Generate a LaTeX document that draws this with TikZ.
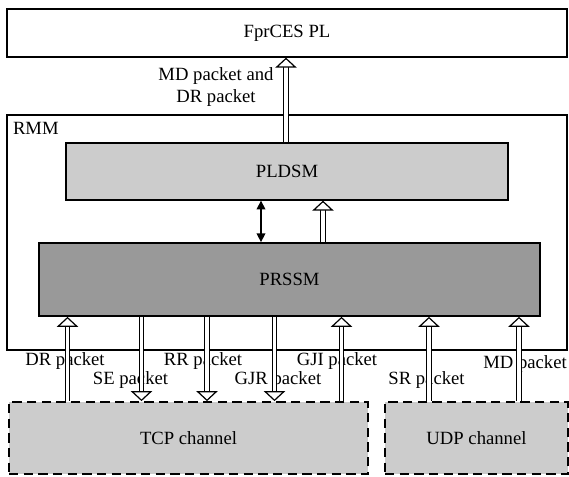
\documentclass[tikz,border=0pt]{standalone}
\usepackage{fontspec}
\setmainfont{Liberation Serif}
\usetikzlibrary{positioning,arrows.meta}
\definecolor{LightBox}{RGB}{204,204,204}
\definecolor{DarkBox}{RGB}{153,153,153}

\tikzset{
	block/.style={draw, line width=1pt, inner sep=0pt},
	channel/.style={draw, fill=LightBox, line width=1.3pt, dash pattern=on 7pt off 4pt, inner sep=0pt},
	hollow/.style={double, double distance=2.6pt, line width=0.9pt,
		-{Triangle[fill=white, width=16pt, length=7.5pt, line width=0.9pt]}},
	bothway/.style={line width=1pt,
		{Triangle[width=6.5pt,length=6.5pt]}-{Triangle[width=6.5pt,length=6.5pt]}}
}

\begin{document}
\begin{tikzpicture}[x=0.75pt, y=-0.75pt, font=\fontsize{14}{16.5}\selectfont]
	\useasboundingbox (0,0) rectangle (569,477);
	
	\node[block, minimum width=420pt, minimum height=36pt] (PL) at (287,33) {FprCES PL};
	
	\node[block, minimum width=420pt, minimum height=176.25pt] (RMM) at (287,232.5) {};
	\node[anchor=north west] (RMMtxt) at ([xshift=1.5pt,yshift=-2.8pt]RMM.north west) {RMM};
	
	\node[block, fill=LightBox, minimum width=331.5pt, minimum height=42.75pt] (PLDSM) at (287,171.5) {PLDSM};
	\node[block, fill=DarkBox, line width=1.3pt, minimum width=375.75pt, minimum height=54.75pt] (PRSSM) at (289.5,279.5) {PRSSM};
	
	\node[channel, minimum width=269.25pt, minimum height=54pt] (TCP) at (188.5,438) {TCP channel};
	\node[channel, minimum width=137.25pt, minimum height=54pt] (UDP) at (476.5,438) {UDP channel};
	
	% packet labels (arrows go over them)
	\node[align=center] (lTop) at (216,87) {MD packet and\\DR packet};
	\node (lDR) at (65,361) {DR packet};
	\node (lSE) at (130.5,380) {SE packet};
	\node (lRR) at (203,361) {RR packet};
	\node (lGJR) at (278,380) {GJR packet};
	\node (lGJI) at (337,361) {GJI packet};
	\node (lSR) at (426.5,380) {SR packet};
	\node (lMD) at (525,364) {MD packet};
	
	\draw[hollow] (PLDSM.north -| 286,0) -- (PL.south -| 286,0);
	\draw[bothway] (PRSSM.north -| 261,0) -- (PLDSM.south -| 261,0);
	\draw[hollow] (PRSSM.north -| 323,0) -- (PLDSM.south -| 323,0);
	
	\draw[hollow] (TCP.north -| 67.5,0) -- (PRSSM.south -| 67.5,0);
	\draw[hollow] (PRSSM.south -| 141.5,0) -- (TCP.north -| 141.5,0);
	\draw[hollow] (PRSSM.south -| 207,0) -- (TCP.north -| 207,0);
	\draw[hollow] (PRSSM.south -| 274.5,0) -- (TCP.north -| 274.5,0);
	\draw[hollow] (TCP.north -| 341.5,0) -- (PRSSM.south -| 341.5,0);
	\draw[hollow] (UDP.north -| 429,0) -- (PRSSM.south -| 429,0);
	\draw[hollow] (UDP.north -| 519,0) -- (PRSSM.south -| 519,0);
	
\end{tikzpicture}
\end{document}
